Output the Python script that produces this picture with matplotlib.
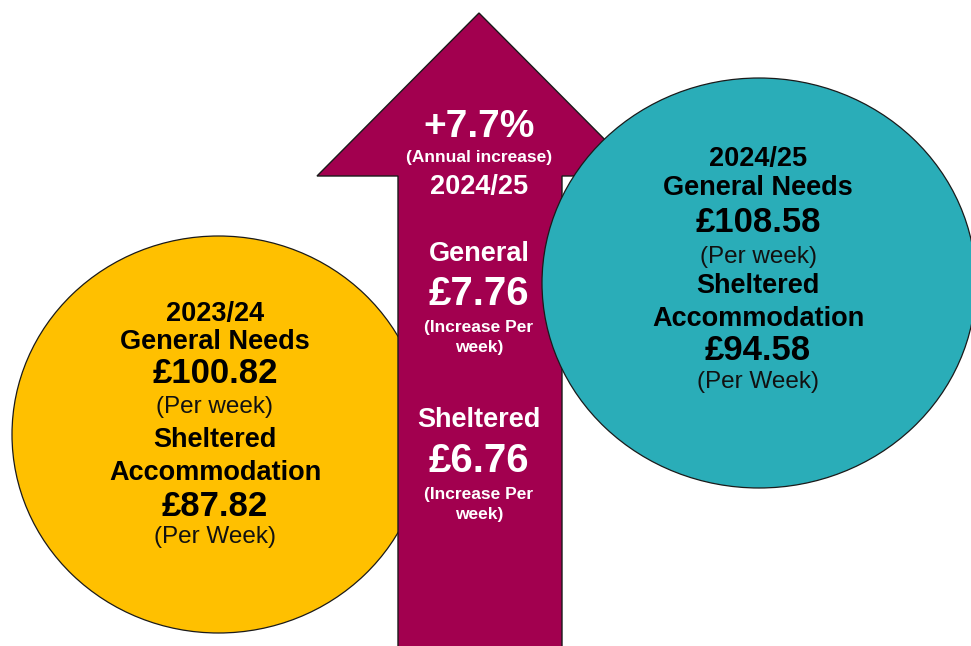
import matplotlib
matplotlib.use("Agg")
import matplotlib.pyplot as plt
from matplotlib.patches import Ellipse, Polygon

# ---- data ----
years = ["2023/24", "2024/25"]
general_needs = [100.82, 108.58]
sheltered = [87.82, 94.58]
annual_increase_pct = 7.7
general_increase = 7.76
sheltered_increase = 6.76

FONT = "Liberation Sans"
W, H = 971, 646

fig = plt.figure(figsize=(W / 100, H / 100), dpi=100)
ax = fig.add_axes([0, 0, 1, 1])
ax.set_xlim(0, W)
ax.set_ylim(H, 0)
ax.axis("off")

YELLOW = "#FFC000"
TEAL = "#2AADB8"
MAROON = "#A2004F"
EDGE = "#1a1a1a"

# yellow circle (behind arrow)
ax.add_patch(Ellipse((218.5, 434.5), 2 * 206.5, 2 * 198.5, facecolor=YELLOW,
                     edgecolor=EDGE, lw=0.9, zorder=1))

# arrow
arrow_pts = [(398, 660), (398, 176), (317, 176), (479, 13), (641, 176),
             (562, 176), (562, 660)]
ax.add_patch(Polygon(arrow_pts, closed=True, facecolor=MAROON, edgecolor=EDGE,
                     lw=1.0, joinstyle="miter", zorder=2))

# teal circle (in front of arrow)
ax.add_patch(Ellipse((759, 283), 2 * 217, 2 * 205, facecolor=TEAL,
                     edgecolor=EDGE, lw=0.9, zorder=3))


def circle_text(cx, baselines, year, gn, sh):
    lines = [
        (year, 19.5, "bold"),
        ("General Needs", 19.5, "bold"),
        (f"£{gn:.2f}", 25, "bold"),
        ("(Per week)", 17.5, "normal"),
        ("Sheltered", 19.5, "bold"),
        ("Accommodation", 19.5, "bold"),
        (f"£{sh:.2f}", 25, "bold"),
        ("(Per Week)", 17.5, "normal"),
    ]
    for (txt, size, weight), by in zip(lines, baselines):
        ax.text(cx, by, txt, ha="center", va="baseline", fontsize=size,
                fontweight=weight, family=FONT, color="#000000"
                if weight == "bold" else "#111111", zorder=5)


circle_text(215, [321, 349, 383, 413, 447, 480, 516, 543],
            years[0], general_needs[0], sheltered[0])
circle_text(758, [166, 195, 232, 263, 293, 326, 360, 388],
            years[1], general_needs[1], sheltered[1])

arrow_lines = [
    (f"+{annual_increase_pct}%", 28, 137),
    ("(Annual increase)", 12.5, 162),
    (years[1], 19.5, 194),
    ("General", 19.5, 261),
    (f"£{general_increase:.2f}", 29, 305),
    ("(Increase Per", 12.5, 332),
    ("week)", 12.5, 352),
    ("Sheltered", 19.5, 427),
    (f"£{sheltered_increase:.2f}", 29, 472),
    ("(Increase Per", 12.5, 499),
    ("week)", 12.5, 519),
]
for txt, size, by in arrow_lines:
    ax.text(479, by, txt, ha="center", va="baseline", fontsize=size,
            fontweight="bold", family=FONT, color="white", zorder=4)

fig.savefig("out.png", dpi=100, facecolor="white")
